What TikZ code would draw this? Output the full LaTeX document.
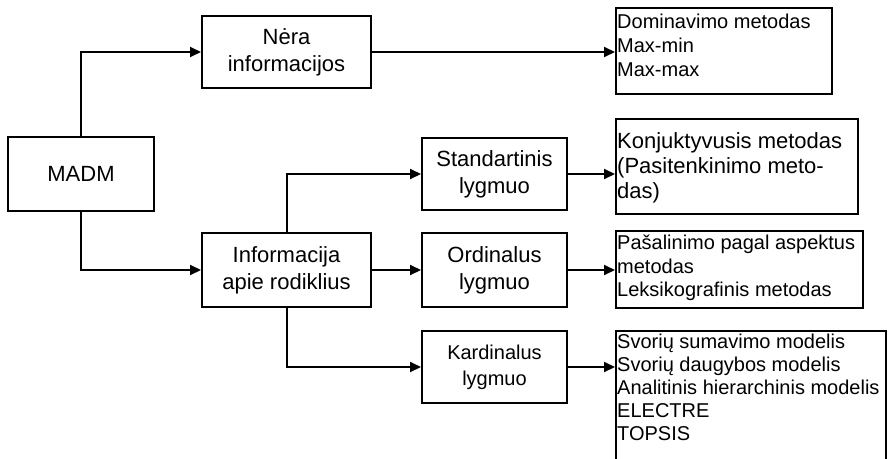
\documentclass[tikz,border=0pt]{standalone}
\usepackage{fontspec}
\setmainfont{Liberation Sans}
\usetikzlibrary{arrows.meta}
\begin{document}
\begin{tikzpicture}[x=1pt,y=-1pt,
  box/.style={draw, line width=2pt, inner sep=0pt, align=center,
              font=\fontsize{22}{27}\selectfont},
  smallbox/.style={box, font=\fontsize{20}{26}\selectfont},
  listbox/.style={draw, line width=2pt, inner sep=0pt, anchor=north west},
  listtext/.style={inner sep=0pt, anchor=north west, align=left},
  arr/.style={line width=2pt, -{Triangle[length=11pt,width=10pt]}}]
\useasboundingbox (0,0) rectangle (893,458);
\clip (0,0) rectangle (893,458);

% left and middle columns
\node[box, minimum width=146pt, minimum height=74pt] (madm) at (81,174) {MADM};
\node[box, minimum width=169pt, minimum height=72pt] (nera) at (286.5,52) {Nėra\\informacijos};
\node[box, minimum width=169pt, minimum height=74pt] (info) at (286.5,270) {Informacija\\apie rodiklius};
\node[box, minimum width=145pt, minimum height=72pt] (std) at (494.5,174) {Standartinis\\lygmuo};
\node[box, minimum width=145pt, minimum height=74pt] (ord) at (494.5,270) {Ordinalus\\lygmuo};
\node[smallbox, minimum width=145pt, minimum height=72pt] (kard) at (494.5,367) {Kardinalus\\lygmuo};

% method lists on the right
\node[listbox, minimum width=216pt, minimum height=86pt] (dom) at (615,7) {};
\node[listtext, font=\fontsize{20}{24}\selectfont] (domt) at (617,13.7)
  {Dominavimo metodas\\Max-min\\Max-max};

\node[listbox, minimum width=242pt, minimum height=95pt] (konj) at (615,118) {};
\node[listtext, font=\fontsize{22}{25}\selectfont] (konjt) at (617,132)
  {Konjuktyvusis metodas\\(Pasitenkinimo meto-\\das)};

\node[listbox, minimum width=247pt, minimum height=77pt] (pas) at (615,230) {};
\node[listtext, font=\fontsize{20}{23.5}\selectfont] (past) at (617,235)
  {Pašalinimo pagal aspektus\\metodas\\Leksikografinis metodas};

\node[listbox, minimum width=270pt, minimum height=140pt] (svo) at (615,330) {};
\node[listtext, font=\fontsize{20}{23}\selectfont] (svot) at (617,334)
  {Svorių sumavimo modelis\\Svorių daugybos modelis\\Analitinis hierarchinis modelis\\ELECTRE\\TOPSIS};

% connectors
\draw[arr] (madm.north) |- (nera.west);
\draw[arr] (madm.south) |- (info.west);
\draw[arr] (nera.east) -- (nera.east -| dom.west);
\draw[arr] (info.north) |- (std.west);
\draw[arr] (info.east) -- (ord.west);
\draw[arr] (info.south) |- (kard.west);
\draw[arr] (std.east) -- (std.east -| konj.west);
\draw[arr] (ord.east) -- (ord.east -| pas.west);
\draw[arr] (kard.east) -- (kard.east -| svo.west);
\end{tikzpicture}
\end{document}
